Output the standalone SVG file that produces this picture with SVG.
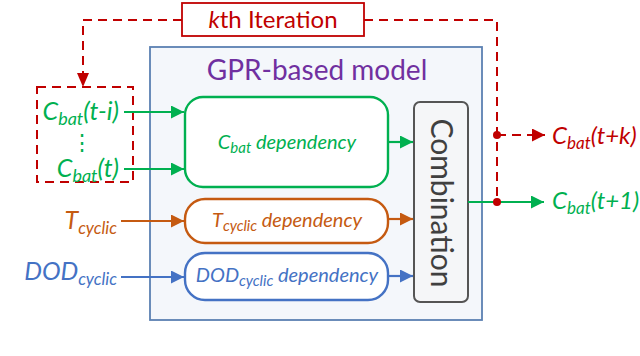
<svg xmlns="http://www.w3.org/2000/svg" width="640" height="356" viewBox="0 0 640 356">
<style>
text{font-family:Lato,"Open Sans","Liberation Sans",sans-serif}
.it{font-style:italic}
.g{fill:#00b050}.o{fill:#c55a11}.b{fill:#4472c4}.r{fill:#c00000}
.red{stroke:#c00000;stroke-width:2;stroke-dasharray:9,6;fill:none}
.ln{stroke-width:2.2;fill:none}
</style>
<defs>
<marker id="ag" viewBox="0 0 10 10" refX="10" refY="5" markerWidth="13" markerHeight="13" markerUnits="userSpaceOnUse" orient="auto"><path d="M0,0L10,5L0,10z" fill="#00b050"/></marker>
<marker id="ao" viewBox="0 0 10 10" refX="10" refY="5" markerWidth="13" markerHeight="13" markerUnits="userSpaceOnUse" orient="auto"><path d="M0,0L10,5L0,10z" fill="#c55a11"/></marker>
<marker id="ab" viewBox="0 0 10 10" refX="10" refY="5" markerWidth="13" markerHeight="13" markerUnits="userSpaceOnUse" orient="auto"><path d="M0,0L10,5L0,10z" fill="#4472c4"/></marker>
<marker id="ar" viewBox="0 0 10 10" refX="10" refY="5" markerWidth="13" markerHeight="13" markerUnits="userSpaceOnUse" orient="auto"><path d="M0,0L10,5L0,10z" fill="#c00000"/></marker>
</defs>

<g id="gpr-model">
<rect x="150" y="47" width="332" height="273" fill="#f4f7fb" stroke="#5b80b2" stroke-width="1.8"/>
<text x="317" y="80" font-size="28" fill="#7030a0" text-anchor="middle">GPR-based model</text>
</g>

<g id="iteration-label">
<rect x="182" y="3" width="182" height="33" fill="#fff" stroke="#c00000" stroke-width="1.8"/>
<text x="273" y="28" font-size="24" class="r" text-anchor="middle"><tspan class="it">k</tspan>th Iteration</text>
</g>

<g id="input-window">
<rect x="37" y="87" width="96" height="95" class="red"/>
<text x="119" y="120" font-size="25" class="g it" text-anchor="end">C<tspan font-size="18" dy="5">bat</tspan><tspan dy="-5">(t-i)</tspan></text>
<text x="82" y="150" font-size="22" class="g" text-anchor="middle">⋮</text>
<text x="119" y="177" font-size="25" class="g it" text-anchor="end">C<tspan font-size="18" dy="5">bat</tspan><tspan dy="-5">(t)</tspan></text>
</g>

<g id="t-input">
<text x="117" y="229" font-size="25" class="o it" text-anchor="end">T<tspan font-size="17" dy="5">cyclic</tspan></text>
</g>
<g id="dod-input">
<text x="117" y="280" font-size="25" class="b it" text-anchor="end">DOD<tspan font-size="17" dy="5">cyclic</tspan></text>
</g>

<g id="cbat-dependency">
<rect x="185" y="97" width="203" height="90" rx="18" fill="#fff" stroke="#00b050" stroke-width="2.4"/>
<text x="287" y="149" font-size="20" class="g it" text-anchor="middle">C<tspan font-size="15" dy="4">bat</tspan><tspan dy="-4"> dependency</tspan></text>
</g>
<g id="t-dependency">
<rect x="185" y="199" width="203" height="44" rx="20" fill="#fff" stroke="#c55a11" stroke-width="2.4"/>
<text x="287" y="227" font-size="20" class="o it" text-anchor="middle">T<tspan font-size="15" dy="4">cyclic</tspan><tspan dy="-4"> dependency</tspan></text>
</g>
<g id="dod-dependency">
<rect x="185" y="253" width="203" height="47" rx="20" fill="#fff" stroke="#4472c4" stroke-width="2.4"/>
<text x="287" y="282" font-size="20" class="b it" text-anchor="middle">DOD<tspan font-size="15" dy="4">cyclic</tspan><tspan dy="-4"> dependency</tspan></text>
</g>

<g id="combination">
<rect x="414" y="102" width="54" height="200" rx="6" fill="#f5f6f8" stroke="#555" stroke-width="2"/>
<text transform="translate(441,203) rotate(90)" font-size="30" fill="#404040" text-anchor="middle" dy="10">Combination</text>
</g>

<g id="outputs">
<text x="552" y="144" font-size="24" class="r it">C<tspan font-size="17" dy="5">bat</tspan><tspan dy="-5">(t+k)</tspan></text>
<text x="552" y="209" font-size="24" class="g it">C<tspan font-size="17" dy="5">bat</tspan><tspan dy="-5">(t+1)</tspan></text>
</g>

<g id="connectors">
<path class="red" d="M182,20H83V85"/>
<path d="M77,73L83,87L89,73z" fill="#c00000"/>
<path class="red" d="M364,20H497V202"/>
<path class="red" d="M497,135H545" marker-end="url(#ar)"/>
<circle cx="497" cy="135" r="4" fill="#c00000"/>
<path class="ln" stroke="#00b050" d="M124,112H184" marker-end="url(#ag)"/>
<path class="ln" stroke="#00b050" d="M124,169H184" marker-end="url(#ag)"/>
<path class="ln" stroke="#c55a11" d="M121,221H184" marker-end="url(#ao)"/>
<path class="ln" stroke="#4472c4" d="M121,277H184" marker-end="url(#ab)"/>
<path class="ln" stroke="#00b050" d="M388,142H413" marker-end="url(#ag)"/>
<path class="ln" stroke="#c55a11" d="M388,219H413" marker-end="url(#ao)"/>
<path class="ln" stroke="#4472c4" d="M388,276H413" marker-end="url(#ab)"/>
<path class="ln" stroke="#00b050" d="M468,202H544" marker-end="url(#ag)"/>
<circle cx="497" cy="202" r="4" fill="#c00000"/>
</g>
</svg>
